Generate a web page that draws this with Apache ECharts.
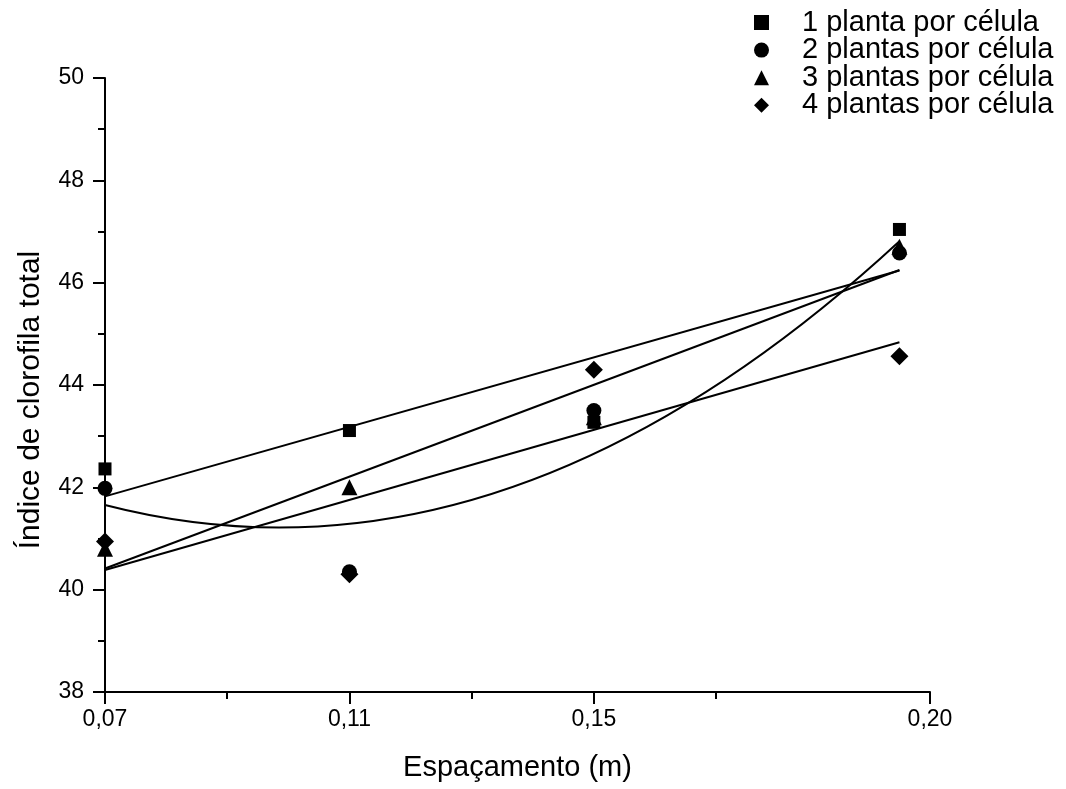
<!DOCTYPE html>
<html>
<head>
<meta charset="utf-8">
<script src="https://cdn.jsdelivr.net/npm/echarts@6/dist/echarts.min.js"></script>
<style>
html,body{margin:0;padding:0;background:#fff;}
#chart{width:1066px;height:789px;}
</style>
</head>
<body>
<div id="chart"></div>
<script>
// ---- data ----
const xValues = [0.07, 0.11, 0.15, 0.20];
const seriesNames = ['1 planta por célula', '2 plantas por célula', '3 plantas por célula', '4 plantas por célula'];
const planta1 = [42.36, 43.11, 43.27, 47.04];
const planta2 = [41.98, 40.35, 43.50, 46.58];
const planta3 = [40.80, 42.00, 43.37, 46.70];
const planta4 = [40.94, 40.30, 44.30, 44.56];
const fitTypes = ['linear', 'quadratic', 'linear', 'linear'];
const symbols = ['rect', 'circle', 'triangle', 'diamond'];
const symbolSizes = [13, 15, 16, 18];
const xMajorTicks = [0.07, 0.11, 0.15, 0.205];
const xMajorLabels = ['0,07', '0,11', '0,15', '0,20'];
const xMinorTicks = [0.09, 0.13, 0.17];
const yMin = 38, yMax = 50, yStep = 2;
const xMin = 0.07, xMax = 0.205;

const FONT = '"Liberation Sans", Arial, Helvetica, sans-serif';
const allY = [planta1, planta2, planta3, planta4];

// least squares polynomial fit (degree 1 or 2) of the read data
function polyFit(xs, ys, deg) {
  const n = deg + 1;
  const A = [], b = [];
  for (let i = 0; i < n; i++) {
    A.push([]);
    for (let j = 0; j < n; j++) {
      let s = 0; xs.forEach(x => { s += Math.pow(x, i + j); });
      A[i].push(s);
    }
    let s = 0; xs.forEach((x, k) => { s += Math.pow(x, i) * ys[k]; });
    b.push(s);
  }
  for (let i = 0; i < n; i++) {
    let p = i;
    for (let r = i + 1; r < n; r++) if (Math.abs(A[r][i]) > Math.abs(A[p][i])) p = r;
    [A[i], A[p]] = [A[p], A[i]]; [b[i], b[p]] = [b[p], b[i]];
    for (let r = i + 1; r < n; r++) {
      const f = A[r][i] / A[i][i];
      for (let c = i; c < n; c++) A[r][c] -= f * A[i][c];
      b[r] -= f * b[i];
    }
  }
  const coef = new Array(n).fill(0);
  for (let i = n - 1; i >= 0; i--) {
    let s = b[i];
    for (let c = i + 1; c < n; c++) s -= A[i][c] * coef[c];
    coef[i] = s / A[i][i];
  }
  return coef;
}
const evalPoly = (c, x) => c.reduce((s, v, i) => s + v * Math.pow(x, i), 0);

const series = [];
allY.forEach((ys, i) => {
  series.push({
    name: seriesNames[i],
    type: 'scatter',
    symbol: symbols[i],
    symbolSize: symbolSizes[i],
    itemStyle: { color: '#000', opacity: 1 },
    z: 3,
    data: xValues.map((x, k) => [x, ys[k]])
  });
});
allY.forEach((ys, i) => {
  const x0 = xValues[0], x1 = xValues[xValues.length - 1];
  if (fitTypes[i] === 'linear') {
    const c = polyFit(xValues, ys, 1);
    series.push({
      name: 'fit' + i,
      type: 'line',
      symbol: 'none',
      silent: true,
      z: 4,
      lineStyle: { color: '#000', width: 2 },
      data: [[x0, evalPoly(c, x0)], [x1, evalPoly(c, x1)]]
    });
  } else {
    const c = polyFit(xValues, ys, 2);
    series.push({
      name: 'fit' + i,
      type: 'custom',
      silent: true,
      z: 4,
      encode: { x: 0, y: 1 },
      data: [[x0, evalPoly(c, x0)]],
      renderItem: function (params, api) {
        // a quadratic is exactly a quadratic Bezier between its endpoints
        const slope0 = c[1] + 2 * c[2] * x0;
        const xm = (x0 + x1) / 2;
        const ym = evalPoly(c, x0) + slope0 * (x1 - x0) / 2;
        const p0 = api.coord([x0, evalPoly(c, x0)]);
        const p1 = api.coord([x1, evalPoly(c, x1)]);
        const pc = api.coord([xm, ym]);
        return {
          type: 'bezierCurve',
          shape: { x1: p0[0], y1: p0[1], x2: p1[0], y2: p1[1], cpx1: pc[0], cpy1: pc[1] },
          style: { stroke: '#000', lineWidth: 2, fill: null }
        };
      }
    });
  }
});

const chart = echarts.init(document.getElementById('chart'), null, { renderer: 'canvas' });
chart.setOption({
  backgroundColor: '#fff',
  animation: false,
  textStyle: { fontFamily: FONT },
  grid: { left: 105, right: 136, top: 78, bottom: 97, containLabel: false },
  legend: {
    orient: 'vertical',
    left: 749,
    top: 3,
    itemWidth: 15,
    itemHeight: 15,
    itemGap: -1.4,
    symbolKeepAspect: true,
    selectedMode: false,
    data: seriesNames,
    itemStyle: { opacity: 1 },
    textStyle: { fontSize: 29, color: '#000', fontFamily: FONT, padding: [0, 0, 0, 28] }
  },
  xAxis: [{
    type: 'value',
    min: xMin,
    max: xMax,
    position: 'bottom',
    name: 'Espaçamento (m)',
    nameLocation: 'middle',
    nameGap: 61,
    nameTextStyle: { fontSize: 29, color: '#000', fontFamily: FONT },
    axisLine: { show: true, onZero: false, lineStyle: { color: '#000', width: 2 } },
    axisTick: { show: true, customValues: xMajorTicks, length: 12, lineStyle: { color: '#000', width: 2 } },
    axisLabel: {
      show: true,
      customValues: xMajorTicks,
      margin: 16,
      fontSize: 23,
      color: '#000',
      fontFamily: FONT,
      formatter: function (v) {
        let best = 0;
        xMajorTicks.forEach((t, i) => { if (Math.abs(t - v) < Math.abs(xMajorTicks[best] - v)) best = i; });
        return xMajorLabels[best];
      }
    },
    splitLine: { show: false }
  }, {
    type: 'value',
    min: xMin,
    max: xMax,
    position: 'bottom',
    axisLine: { show: false, onZero: false },
    axisTick: { show: true, customValues: xMinorTicks, length: 7, lineStyle: { color: '#000', width: 2 } },
    axisLabel: { show: false },
    splitLine: { show: false }
  }],
  yAxis: {
    type: 'value',
    min: yMin,
    max: yMax,
    interval: yStep,
    name: 'Índice de clorofila total',
    nameLocation: 'middle',
    nameGap: 59,
    nameRotate: 90,
    nameTextStyle: { fontSize: 30, color: '#000', fontFamily: FONT, padding: [0, 30, 0, 0] },
    axisLine: { show: true, onZero: false, lineStyle: { color: '#000', width: 2 } },
    axisTick: { show: true, length: 12, lineStyle: { color: '#000', width: 2 } },
    minorTick: { show: true, splitNumber: 2, length: 7, lineStyle: { color: '#000', width: 2 } },
    axisLabel: { margin: 21, fontSize: 23, color: '#000', fontFamily: FONT },
    splitLine: { show: false }
  },
  series: series
});
</script>
</body>
</html>
